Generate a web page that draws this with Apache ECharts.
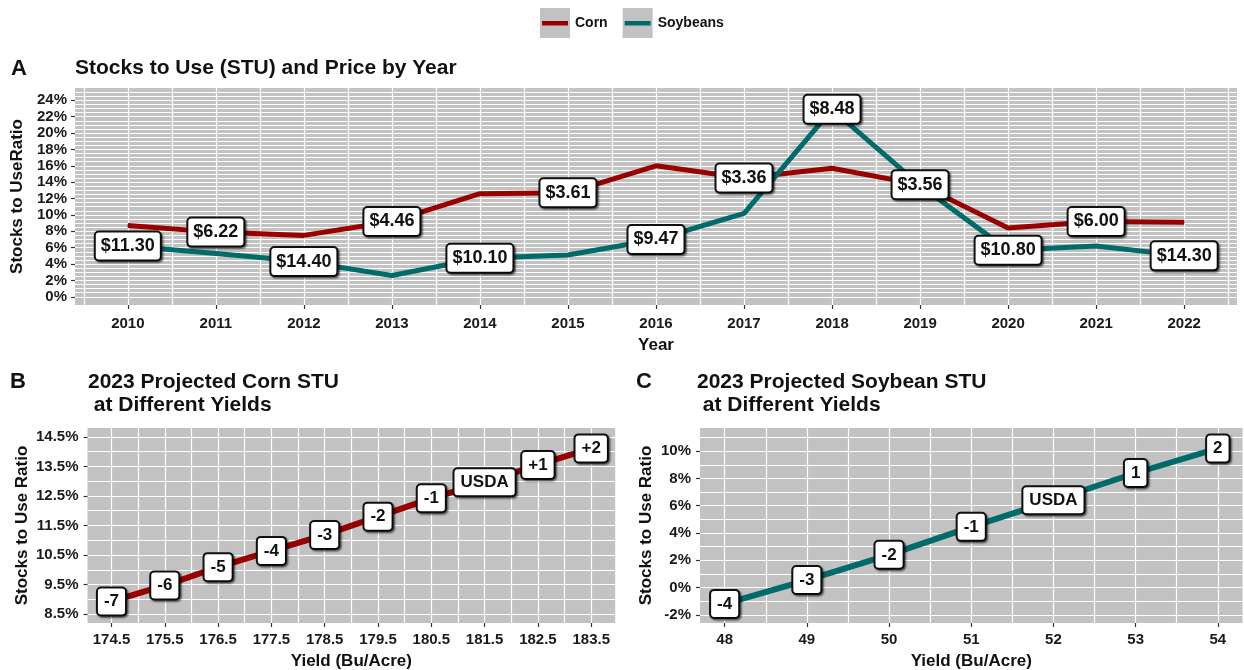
<!DOCTYPE html>
<html><head><meta charset="utf-8">
<script src="https://cdn.jsdelivr.net/npm/echarts@6/dist/echarts.min.js"></script>
<style>html,body{margin:0;padding:0;background:#fff}#c{width:1244px;height:670px}</style>
</head><body><div id="c"></div>
<script>
// ---------- data ----------
const years = [2010, 2011, 2012, 2013, 2014, 2015, 2016, 2017, 2018, 2019, 2020, 2021, 2022];
const cornSTU = [8.7, 7.9, 7.5, 9.2, 12.6, 12.7, 16.0, 14.5, 15.7, 13.7, 8.4, 9.2, 9.1];
const soySTU = [6.2, 5.3, 4.3, 2.6, 4.7, 5.1, 7.0, 10.2, 22.9, 13.6, 5.7, 6.2, 5.0];
const cornPrice = [null, '$6.22', null, '$4.46', null, '$3.61', null, '$3.36', null, '$3.56', null, '$6.00', null];
const soyPrice = ['$11.30', null, '$14.40', null, '$10.10', null, '$9.47', null, '$8.48', null, '$10.80', null, '$14.30'];
const stuTicksA = [0, 2, 4, 6, 8, 10, 12, 14, 16, 18, 20, 22, 24];

const cornYield = [174.5, 175.5, 176.5, 177.5, 178.5, 179.5, 180.5, 181.5, 182.5, 183.5];
const cornProjSTU = [8.93, 9.47, 10.09, 10.64, 11.18, 11.80, 12.42, 12.96, 13.55, 14.11];
const cornScenario = ['-7', '-6', '-5', '-4', '-3', '-2', '-1', 'USDA', '+1', '+2'];
const cornTicksY = [8.5, 9.5, 10.5, 11.5, 12.5, 13.5, 14.5];

const soyYield = [48, 49, 50, 51, 52, 53, 54];
const soyProjSTU = [-1.2, 0.55, 2.4, 4.45, 6.4, 8.4, 10.2];
const soyScenario = ['-4', '-3', '-2', '-1', 'USDA', '1', '2'];
const soyTicksY = [-2, 0, 2, 4, 6, 8, 10];

// ---------- style ----------
const FONT = 'Liberation Sans, Arial, sans-serif';
const CORN = '#990000', SOY = '#006b6b', PANEL = '#c2c2c2';
function steps(a, b, s) { const r = []; for (let v = a; v <= b + 1e-9; v += s) r.push(+v.toFixed(4)); return r; }

function gridAxis(g, min, max, pos, gridVals) {
  return { type: 'value', gridIndex: g, min, max, position: pos,
    axisLine: { show: false, onZero: false },
    axisTick: { show: false, customValues: gridVals },
    axisLabel: { show: false },
    splitLine: { show: true, lineStyle: { color: '#ffffff', width: 1.2 } } };
}
function labelAxis(g, min, max, pos, vals, fmt, margin, name, nameGap) {
  return { type: 'value', gridIndex: g, min, max, position: pos,
    axisLine: { show: false, onZero: false },
    axisTick: { show: true, customValues: vals, length: 4, lineStyle: { color: '#333', width: 1.2 } },
    axisLabel: { customValues: vals, formatter: fmt, margin, color: '#1a1a1a', fontSize: 15, fontWeight: 'bold', fontFamily: FONT },
    splitLine: { show: false },
    name, nameLocation: 'middle', nameGap,
    nameTextStyle: { color: '#111', fontSize: 17, fontWeight: 'bold', fontFamily: FONT } };
}
function boxLabel(fs, pad) {
  return { show: true, position: 'inside', color: '#111', fontSize: fs, fontWeight: 'bold', fontFamily: FONT,
    lineHeight: fs + 1, backgroundColor: '#fff', borderColor: '#111', borderWidth: 2, borderRadius: 3,
    padding: pad, shadowColor: 'rgba(0,0,0,0.55)', shadowBlur: 2, shadowOffsetX: 1.5, shadowOffsetY: 1.5 };
}
function lineSeries(name, xi, xs, ys, labels, color, width, fs, pad) {
  return { name, type: 'line', xAxisIndex: xi, yAxisIndex: xi, silent: true,
    symbol: 'circle', symbolSize: 1, showSymbol: true, showAllSymbol: true,
    lineStyle: { color, width }, itemStyle: { color },
    label: boxLabel(fs, pad),
    data: xs.map((x, i) => ({ value: [x, ys[i]], label: { show: labels[i] != null, formatter: labels[i] || '' } })) };
}
const titleStyle = { color: '#111', fontSize: 21, fontWeight: 'bold', fontFamily: FONT, lineHeight: 23 };
const letterStyle = { color: '#111', fontSize: 22, fontWeight: 'bold', fontFamily: FONT };

const option = {
  animation: false,
  backgroundColor: '#fff',
  title: [
    { text: 'A', left: 11, top: 58, padding: 0, textStyle: letterStyle },
    { text: 'Stocks to Use (STU) and Price by Year', left: 75, top: 57, padding: 0, textStyle: titleStyle },
    { text: 'B', left: 10, top: 371, padding: 0, textStyle: letterStyle },
    { text: '2023 Projected Corn STU\n at Different Yields', left: 88, top: 371, padding: 0, textStyle: titleStyle },
    { text: 'C', left: 636, top: 371, padding: 0, textStyle: letterStyle },
    { text: '2023 Projected Soybean STU\n at Different Yields', left: 697, top: 371, padding: 0, textStyle: titleStyle }
  ],
  legend: [
    { left: 540, top: 8, padding: 0, itemWidth: 30, itemHeight: 30, itemGap: 15, icon: 'rect', selectedMode: false,
      itemStyle: { borderWidth: 0 }, lineStyle: { width: 0 },
      textStyle: { color: '#111', fontSize: 14, fontWeight: 'bold', fontFamily: FONT },
      data: [{ name: 'Corn', itemStyle: { color: PANEL } }, { name: 'Soybeans', itemStyle: { color: PANEL } }] },
    { left: 540, top: 8, padding: 0, itemWidth: 30, itemHeight: 30, itemGap: 15, selectedMode: false,
      icon: 'path://M0,0L0.01,0L0.01,0.01L0,0.01Z M2,13L28,13L28,17.5L2,17.5Z M29.99,29.99L30,29.99L30,30L29.99,30Z',
      itemStyle: { borderWidth: 0 }, lineStyle: { width: 0 },
      textStyle: { color: 'rgba(0,0,0,0)', fontSize: 14, fontWeight: 'bold', fontFamily: FONT },
      data: [{ name: 'Corn', itemStyle: { color: CORN } }, { name: 'Soybeans', itemStyle: { color: SOY } }] }
  ],
  grid: [
    { left: 75, top: 88, width: 1162, height: 217, show: true, backgroundColor: PANEL, borderWidth: 0, containLabel: false, outerBoundsMode: 'none' },
    { left: 87.5, top: 428, width: 527.7, height: 195, show: true, backgroundColor: PANEL, borderWidth: 0, containLabel: false, outerBoundsMode: 'none' },
    { left: 700, top: 428, width: 542.5, height: 195, show: true, backgroundColor: PANEL, borderWidth: 0, containLabel: false, outerBoundsMode: 'none' }
  ],
  xAxis: [
    gridAxis(0, 2009.4, 2022.6, 'bottom', steps(2009.5, 2022.5, 0.5)),
    labelAxis(0, 2009.4, 2022.6, 'bottom', years, v => String(v), 11, 'Year', 32),
    gridAxis(1, 174.05, 183.95, 'bottom', steps(174.5, 183.5, 0.5)),
    labelAxis(1, 174.05, 183.95, 'bottom', cornYield, v => v.toFixed(1), 9, 'Yield (Bu/Acre)', 30),
    gridAxis(2, 47.7, 54.3, 'bottom', steps(48, 54, 0.5)),
    labelAxis(2, 47.7, 54.3, 'bottom', soyYield, v => String(v), 9, 'Yield (Bu/Acre)', 30)
  ],
  yAxis: [
    gridAxis(0, -1, 25.5, 'left', steps(0, 25, 0.5)),
    labelAxis(0, -1, 25.5, 'left', stuTicksA, v => v + '%', 8, 'Stocks to UseRatio', 45),
    gridAxis(1, 8.2, 14.8, 'left', steps(8.5, 14.5, 0.5)),
    labelAxis(1, 8.2, 14.8, 'left', cornTicksY, v => v.toFixed(1) + '%', 9, 'Stocks to Use Ratio', 57),
    gridAxis(2, -2.6, 11.7, 'left', steps(-2, 11, 1)),
    labelAxis(2, -2.6, 11.7, 'left', soyTicksY, v => v + '%', 9, 'Stocks to Use Ratio', 45)
  ],
  series: [
    lineSeries('Corn', 0, years, cornSTU, cornPrice, CORN, 5, 18, [4, 5]),
    lineSeries('Soybeans', 0, years, soySTU, soyPrice, SOY, 5, 18, [4, 5]),
    lineSeries('Corn projection', 2, cornYield, cornProjSTU, cornScenario, CORN, 6, 17, [4, 6]),
    lineSeries('Soybean projection', 4, soyYield, soyProjSTU, soyScenario, SOY, 6, 17, [4, 6])
  ]
};
const chart = echarts.init(document.getElementById('c'), null, { renderer: 'canvas' });
chart.setOption(option);
</script>
</body></html>
